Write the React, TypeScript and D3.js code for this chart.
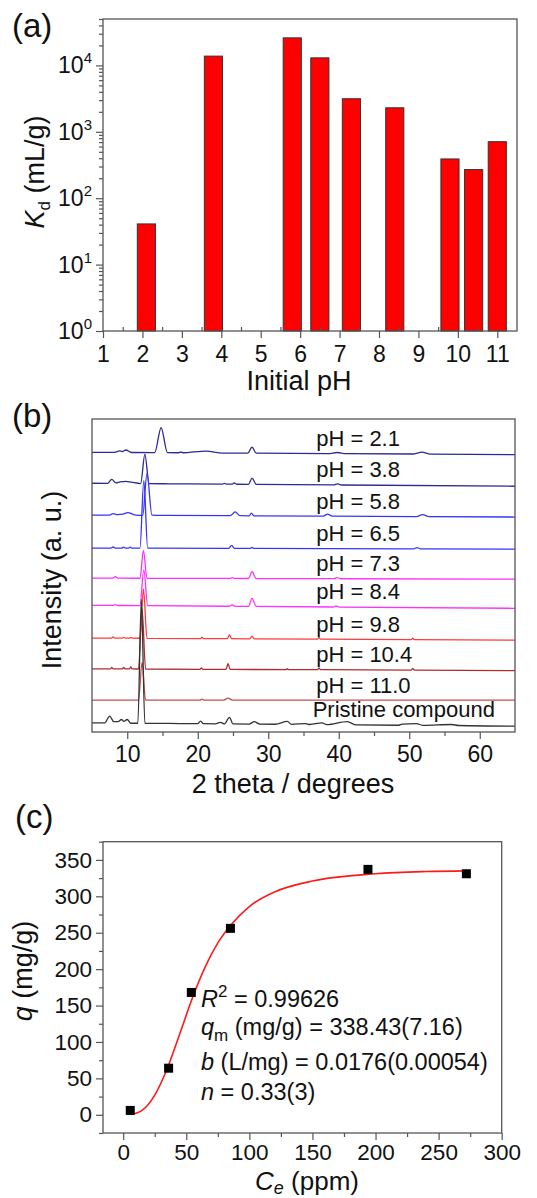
import React, { useEffect, useRef } from 'react';
import * as d3 from 'd3';

const W = 537;
const H = 1198;
const FONT = "'Liberation Sans', Arial, Helvetica, sans-serif";
const AXIS = '#555';
const TEXT = '#111';

// (a) Kd against initial pH
const phValues = [2.1, 3.8, 5.8, 6.5, 7.3, 8.4, 9.8, 10.4, 11.0];
const kdValues = [41, 13800, 26000, 13000, 3150, 2300, 390, 270, 710];
const phTicks = [1, 2, 3, 4, 5, 6, 7, 8, 9, 10, 11];
const phMinorTicks = [1.5, 2.5, 3.5, 4.5, 5.5, 6.5, 7.5, 8.5, 9.5, 10.5];
const kdTicks = [1, 10, 100, 1000, 10000];
const kdExponents = ['0', '1', '2', '3', '4'];
const BAR_W = 0.46;

// (b) PXRD patterns, [2theta, intensity above own baseline]
const traceLabels = ['pH = 2.1', 'pH = 3.8', 'pH = 5.8', 'pH = 6.5', 'pH = 7.3', 'pH = 8.4', 'pH = 9.8', 'pH = 10.4', 'pH = 11.0', 'Pristine compound'];
const traceColors = ['#2b2b95', '#2b2b95', '#3434ff', '#3434ff', '#ff30ff', '#ff30ff', '#ff3a3a', '#b02c2c', '#c25050', '#333333'];
const traceOffsets = [89, 79, 69, 58.6, 49, 40, 29.7, 19.9, 10.2, 2.4];
const thetaTicks = [10, 20, 30, 40, 50, 60];
const thetaMinorTicks = [15, 25, 35, 45, 55];

const pxrd21 = [[5, 0.37], [8.2, 0.33], [8.9, 0.8], [9.3, 0.6], [9.8, 1.1], [10.6, 0.3], [13.9, 0.26], [14.8, 8.2], [15.7, 0.24], [17.3, 0.22], [17.6, 0.45], [17.9, 0.21], [21.2, 0.75], [23.5, 0.1], [27.1, 0.1], [27.7, 2.0], [28.3, 0.08], [38.5, -0.04], [39.8, 0.3], [41, -0.06], [50.5, -0.18], [51.8, 0.4], [53, -0.2], [65, -0.37]];
const pxrd38 = [[5, 0.48], [7.2, 0.45], [7.8, 1.7], [8.4, 0.6], [9.0, 0.9], [9.8, 1.1], [10.6, 0.8], [11.9, 0.37], [12.5, 9.8], [13.1, 0.34], [16, 0.3], [23.5, 0.19], [23.8, 0.45], [24.1, 0.18], [24.9, 0.17], [25.2, 0.55], [25.5, 0.16], [27.2, 0.13], [27.7, 2.1], [28.3, 0.12], [39.3, -0.07], [39.8, 0.3], [40.4, -0.08], [65, -0.48]];
const pxrd58 = [[5, 0.32], [7.5, 0.29], [8.0, 0.8], [8.6, 0.45], [9.4, 0.6], [10.1, 1.1], [11.0, 0.4], [12.2, 0.24], [12.8, 13.6], [13.5, 0.3], [15, 0.2], [24.6, 0.12], [25.3, 1.3], [26.0, 0.1], [27.3, 0.08], [27.6, 0.9], [28.0, 0.07], [37.8, -0.03], [38.4, 0.6], [39.1, -0.04], [51, -0.17], [51.9, 0.45], [52.8, -0.19], [65, -0.32]];
const pxrd65 = [[5, 0.16], [7.7, 0.15], [8.0, 0.5], [8.3, 0.14], [9.2, 0.14], [9.5, 0.45], [9.8, 0.13], [10.2, 0.13], [10.4, 0.45], [10.7, 0.13], [11.8, 0.12], [12.35, 21.7], [12.9, 0.12], [24.4, 0.06], [24.8, 1.0], [25.2, 0.05], [27.4, 0.04], [27.7, 0.35], [28.0, 0.04], [50.6, -0.08], [51.1, 0.3], [51.6, -0.09], [65, -0.16]];
const pxrd73 = [[5, 0.16], [7.9, 0.15], [8.3, 0.65], [8.7, 0.14], [11.8, 0.12], [12.3, 9.0], [12.8, 0.11], [24.6, 0.06], [24.9, 0.35], [25.2, 0.05], [27.2, 0.04], [27.7, 2.2], [28.3, 0.03], [39.3, -0.03], [39.8, 0.3], [40.3, -0.04], [65, -0.16]];
const pxrd84 = [[5, 0.48], [8.0, 0.43], [8.3, 0.7], [8.7, 0.42], [11.8, 0.37], [12.35, 11.8], [12.9, 0.36], [24.5, 0.17], [24.9, 0.6], [25.3, 0.16], [27.2, 0.13], [27.7, 2.7], [28.3, 0.12], [39.2, -0.07], [39.6, 0.3], [40.1, -0.08], [65, -0.48]];
const pxrd98 = [[5, 0.32], [7.8, 0.29], [8.0, 0.7], [8.2, 0.29], [9.3, 0.27], [9.5, 0.5], [9.7, 0.27], [10.3, 0.26], [10.5, 0.5], [10.7, 0.26], [11.8, 0.25], [12.3, 16], [12.8, 0.24], [20.4, 0.16], [20.6, 0.6], [20.8, 0.16], [24.2, 0.12], [24.5, 1.3], [24.8, 0.11], [27.4, 0.08], [27.7, 0.9], [28.0, 0.07], [37.0, -0.02], [37.2, 0.5], [37.4, -0.02], [50.3, -0.16], [50.5, 0.3], [50.7, -0.16], [65, -0.32]];
const pxrd104 = [[5, 0.27], [7.6, 0.26], [7.8, 0.7], [8.0, 0.26], [9.3, 0.25], [9.5, 0.7], [9.7, 0.25], [10.3, 0.24], [10.5, 0.9], [10.7, 0.24], [11.6, 0.23], [12.1, 19.5], [12.6, 0.22], [20.3, 0.13], [20.5, 0.6], [20.7, 0.13], [24.0, 0.1], [24.3, 1.9], [24.6, 0.09], [32.5, 0.03], [32.7, 0.3], [32.9, 0.03], [37.0, 0], [37.2, 0.6], [37.4, 0], [50.3, -0.13], [50.5, 0.4], [50.7, -0.13], [65, -0.27]];
const pxrd110 = [[5, 0], [11.6, 0], [12.1, 12], [12.6, 0], [20.3, 0], [20.6, 0.3], [20.9, 0], [23.7, 0], [24.3, 0.6], [24.9, 0], [65, 0]];
const pxrdPristine = [[5, 0.53], [6.8, 0.5], [7.5, 2.7], [8.1, 0.9], [8.7, 0.9], [9.2, 1.6], [9.5, 1.0], [10.0, 1.6], [10.5, 0.4], [11.5, 0.4], [12.0, 40], [12.5, 0.4], [16, 0.34], [20.0, 0.26], [20.4, 1.1], [20.8, 0.25], [22.5, 0.22], [23.2, 0.7], [23.8, 0.2], [24.5, 2.3], [25.0, 0.18], [27.3, 0.14], [28.0, 0.9], [28.8, 0.12], [31, 0.07], [32.7, 1.0], [33.3, 0.03], [35.3, 0.3], [35.9, -0.01], [37.6, 0.5], [38.3, -0.05], [41.2, 0.9], [42.5, -0.15], [48.5, -0.25], [49, 0.1], [51, 0.3], [52, -0.3], [56, 0], [57, -0.33], [65, -0.53]];
const traceData = [pxrd21, pxrd38, pxrd58, pxrd65, pxrd73, pxrd84, pxrd98, pxrd104, pxrd110, pxrdPristine];

// (c) isotherm
const ceValues = [5.6, 36, 54, 85, 194, 272];
const qValues = [6, 64, 168, 256, 337, 331];
const fitCe = [6, 15, 25, 35, 45, 55, 65, 75, 85, 100, 120, 150, 200, 240, 272];
const fitQ = [0.4, 6, 27, 64, 112, 161, 203, 236, 260, 286, 306, 321, 331, 334, 335];
const ceTicks = [0, 50, 100, 150, 200, 250, 300];
const ceMinorTicks = [25, 75, 125, 175, 225, 275];
const qTicks = [0, 50, 100, 150, 200, 250, 300, 350];
const qMinorTicks = [-25, 25, 75, 125, 175, 225, 275, 325, 375];

function styleAxis(g: any, size: number) {
  g.select('.domain').remove();
  g.selectAll('.tick line').attr('stroke', AXIS).attr('stroke-width', 1.2);
  g.selectAll('.tick text').attr('fill', TEXT).attr('font-size', size).attr('font-family', FONT);
}

function frame(svg: any, x0: number, y0: number, x1: number, y1: number) {
  svg.append('rect').attr('x', x0).attr('y', y0).attr('width', x1 - x0).attr('height', y1 - y0)
    .attr('fill', 'none').attr('stroke', AXIS).attr('stroke-width', 1.3);
}

function drawA(svg: any) {
  const left = 103, right = 517, top = 19, bottom = 331;
  const x = d3.scaleLinear().domain([1, 11.5]).range([left, right]);
  const y = d3.scaleLog().domain([1, 5e4]).range([bottom, top]);

  svg.append('g').selectAll('rect').data(phValues).join('rect')
    .attr('x', (d: number) => x(d - BAR_W / 2))
    .attr('width', x(1 + BAR_W) - x(1))
    .attr('y', (d: number, i: number) => y(kdValues[i]))
    .attr('height', (d: number, i: number) => y(1) - y(kdValues[i]))
    .attr('fill', '#ff0000').attr('stroke', '#333').attr('stroke-width', 1);

  frame(svg, left, top, right, bottom);

  const xa = svg.append('g').attr('transform', `translate(0,${bottom})`)
    .call(d3.axisBottom(x).tickValues(phTicks).tickSize(7).tickPadding(8).tickFormat(d3.format('d')));
  styleAxis(xa, 23);
  const xm = svg.append('g').attr('transform', `translate(0,${bottom})`)
    .call(d3.axisBottom(x).tickValues(phMinorTicks).tickSize(-4).tickFormat(() => ''));
  styleAxis(xm, 23);

  const minor: number[] = [];
  kdTicks.forEach((t) => d3.range(2, 10).forEach((m) => { if (t * m <= 5e4) minor.push(t * m); }));
  const ya = svg.append('g').attr('transform', `translate(${left},0)`)
    .call(d3.axisLeft(y).tickValues(kdTicks).tickSize(7).tickFormat(() => ''));
  styleAxis(ya, 23);
  const ym = svg.append('g').attr('transform', `translate(${left},0)`)
    .call(d3.axisLeft(y).tickValues(minor).tickSize(4).tickFormat(() => ''));
  styleAxis(ym, 23);

  const labels = svg.append('g').selectAll('text').data(kdTicks).join('text')
    .attr('x', left - 11).attr('y', (d: number) => y(d) + 8)
    .attr('text-anchor', 'end').attr('font-size', 23).attr('fill', TEXT);
  labels.append('tspan').text('10');
  labels.append('tspan').attr('dy', -10).attr('font-size', 15).text((d: number, i: number) => kdExponents[i]);

  svg.append('text').attr('x', 299).attr('y', 390).attr('text-anchor', 'middle')
    .attr('font-size', 27).attr('fill', TEXT).text('Initial pH');

  const yt = svg.append('text').attr('transform', 'translate(44,172) rotate(-90)')
    .attr('text-anchor', 'middle').attr('font-size', 27).attr('fill', TEXT);
  yt.append('tspan').attr('font-style', 'italic').text('K');
  yt.append('tspan').attr('font-size', 17).attr('dy', 6).text('d');
  yt.append('tspan').attr('dy', -6).text(' (mL/g)');

  svg.append('text').attr('x', 12).attr('y', 37).attr('font-size', 33).attr('fill', TEXT).text('(a)');
}

function drawB(svg: any) {
  const left = 92, right = 515, top = 419, bottom = 732;
  const x = d3.scaleLinear().domain([5, 65]).range([left, right]);
  const y = d3.scaleLinear().domain([0, 100]).range([bottom, top]);

  traceData.forEach((pts, i) => {
    const line = d3.line<number[]>()
      .x((d) => x(d[0]))
      .y((d) => y(traceOffsets[i] + d[1]))
      .curve(d3.curveMonotoneX);
    svg.append('path').attr('d', line(pts)).attr('fill', 'none')
      .attr('stroke', traceColors[i]).attr('stroke-width', 1.3).attr('stroke-linejoin', 'round');
  });

  svg.append('g').selectAll('text').data(traceLabels).join('text')
    .attr('x', (d: string, i: number) => x(i === 9 ? 36.3 : 36.8))
    .attr('y', (d: string, i: number) => y(traceOffsets[i]) - 15)
    .attr('dominant-baseline', 'central')
    .attr('font-size', 22).attr('fill', TEXT).text((d: string) => d);

  frame(svg, left, top, right, bottom);

  const xa = svg.append('g').attr('transform', `translate(0,${bottom})`)
    .call(d3.axisBottom(x).tickValues(thetaTicks).tickSize(7).tickPadding(7).tickFormat(d3.format('d')));
  styleAxis(xa, 23);
  const xm = svg.append('g').attr('transform', `translate(0,${bottom})`)
    .call(d3.axisBottom(x).tickValues(thetaMinorTicks).tickSize(4).tickFormat(() => ''));
  styleAxis(xm, 23);

  svg.append('text').attr('x', 293).attr('y', 793).attr('text-anchor', 'middle')
    .attr('font-size', 27).attr('fill', TEXT).text('2 theta / degrees');
  svg.append('text').attr('transform', 'translate(61,580) rotate(-90)').attr('text-anchor', 'middle')
    .attr('font-size', 27).attr('fill', TEXT).text('Intensity (a. u.)');
  svg.append('text').attr('x', 12).attr('y', 427).attr('font-size', 33).attr('fill', TEXT).text('(b)');
}

function drawC(svg: any) {
  const left = 103, right = 501.7, top = 841.7, bottom = 1133;
  const x = d3.scaleLinear().domain([-16, 300]).range([left, right]);
  const y = d3.scaleLinear().domain([-25, 375]).range([bottom, top]);

  frame(svg, left, top, right, bottom);

  const xa = svg.append('g').attr('transform', `translate(0,${bottom})`)
    .call(d3.axisBottom(x).tickValues(ceTicks).tickSize(7).tickPadding(4.5).tickFormat(d3.format('d')));
  styleAxis(xa, 22.5);
  const xm = svg.append('g').attr('transform', `translate(0,${bottom})`)
    .call(d3.axisBottom(x).tickValues(ceMinorTicks).tickSize(4).tickFormat(() => ''));
  styleAxis(xm, 22.5);
  const ya = svg.append('g').attr('transform', `translate(${left},0)`)
    .call(d3.axisLeft(y).tickValues(qTicks).tickSize(7).tickPadding(4).tickFormat(d3.format('d')));
  styleAxis(ya, 22.5);
  const ym = svg.append('g').attr('transform', `translate(${left},0)`)
    .call(d3.axisLeft(y).tickValues(qMinorTicks).tickSize(4).tickFormat(() => ''));
  styleAxis(ym, 22.5);

  const fit = d3.line<number>().x((d) => x(d)).y((d, i) => y(fitQ[i])).curve(d3.curveMonotoneX);
  svg.append('path').attr('d', fit(fitCe)).attr('fill', 'none').attr('stroke', '#ff1a1a').attr('stroke-width', 1.6);

  svg.append('g').selectAll('rect').data(ceValues).join('rect')
    .attr('x', (d: number) => x(d) - 4.5).attr('y', (d: number, i: number) => y(qValues[i]) - 4.5)
    .attr('width', 9).attr('height', 9).attr('fill', '#000');

  const ax = 201;
  const t1 = svg.append('text').attr('x', ax).attr('y', 1006.7).attr('font-size', 23.5).attr('fill', TEXT);
  t1.append('tspan').attr('font-style', 'italic').text('R');
  t1.append('tspan').attr('font-size', 17).attr('dy', -10).text('2');
  t1.append('tspan').attr('dy', 10).text(' = 0.99626');
  const t2 = svg.append('text').attr('x', ax).attr('y', 1035).attr('font-size', 23.5).attr('fill', TEXT);
  t2.append('tspan').attr('font-style', 'italic').text('q');
  t2.append('tspan').attr('font-size', 17).attr('dy', 6).text('m');
  t2.append('tspan').attr('dy', -6).text(' (mg/g) = 338.43(7.16)');
  const t3 = svg.append('text').attr('x', ax).attr('y', 1070).attr('font-size', 23.5).attr('fill', TEXT);
  t3.append('tspan').attr('font-style', 'italic').text('b');
  t3.append('tspan').text(' (L/mg) = 0.0176(0.00054)');
  const t4 = svg.append('text').attr('x', ax).attr('y', 1100).attr('font-size', 23.5).attr('fill', TEXT);
  t4.append('tspan').attr('font-style', 'italic').text('n');
  t4.append('tspan').text(' = 0.33(3)');

  const xt = svg.append('text').attr('x', 307).attr('y', 1189.5).attr('text-anchor', 'middle')
    .attr('font-size', 26).attr('fill', TEXT);
  xt.append('tspan').attr('font-style', 'italic').text('C');
  xt.append('tspan').attr('font-style', 'italic').attr('font-size', 18).attr('dy', 4).text('e');
  xt.append('tspan').attr('dy', -4).text(' (ppm)');

  const yt = svg.append('text').attr('transform', 'translate(32,971) rotate(-90)')
    .attr('text-anchor', 'middle').attr('font-size', 27).attr('fill', TEXT);
  yt.append('tspan').attr('font-style', 'italic').text('q');
  yt.append('tspan').text(' (mg/g)');

  svg.append('text').attr('x', 15).attr('y', 828).attr('font-size', 33).attr('fill', TEXT).text('(c)');
}

export default function App() {
  const ref = useRef<SVGSVGElement>(null);

  useEffect(() => {
    const svg = d3.select(ref.current);
    svg.selectAll('*').remove();
    drawA(svg);
    drawB(svg);
    drawC(svg);
  }, []);

  return (
    <svg
      ref={ref}
      width={W}
      height={H}
      fontFamily={FONT}
      style={{ position: 'absolute', left: 0, top: 0, background: '#fff' }}
    />
  );
}
